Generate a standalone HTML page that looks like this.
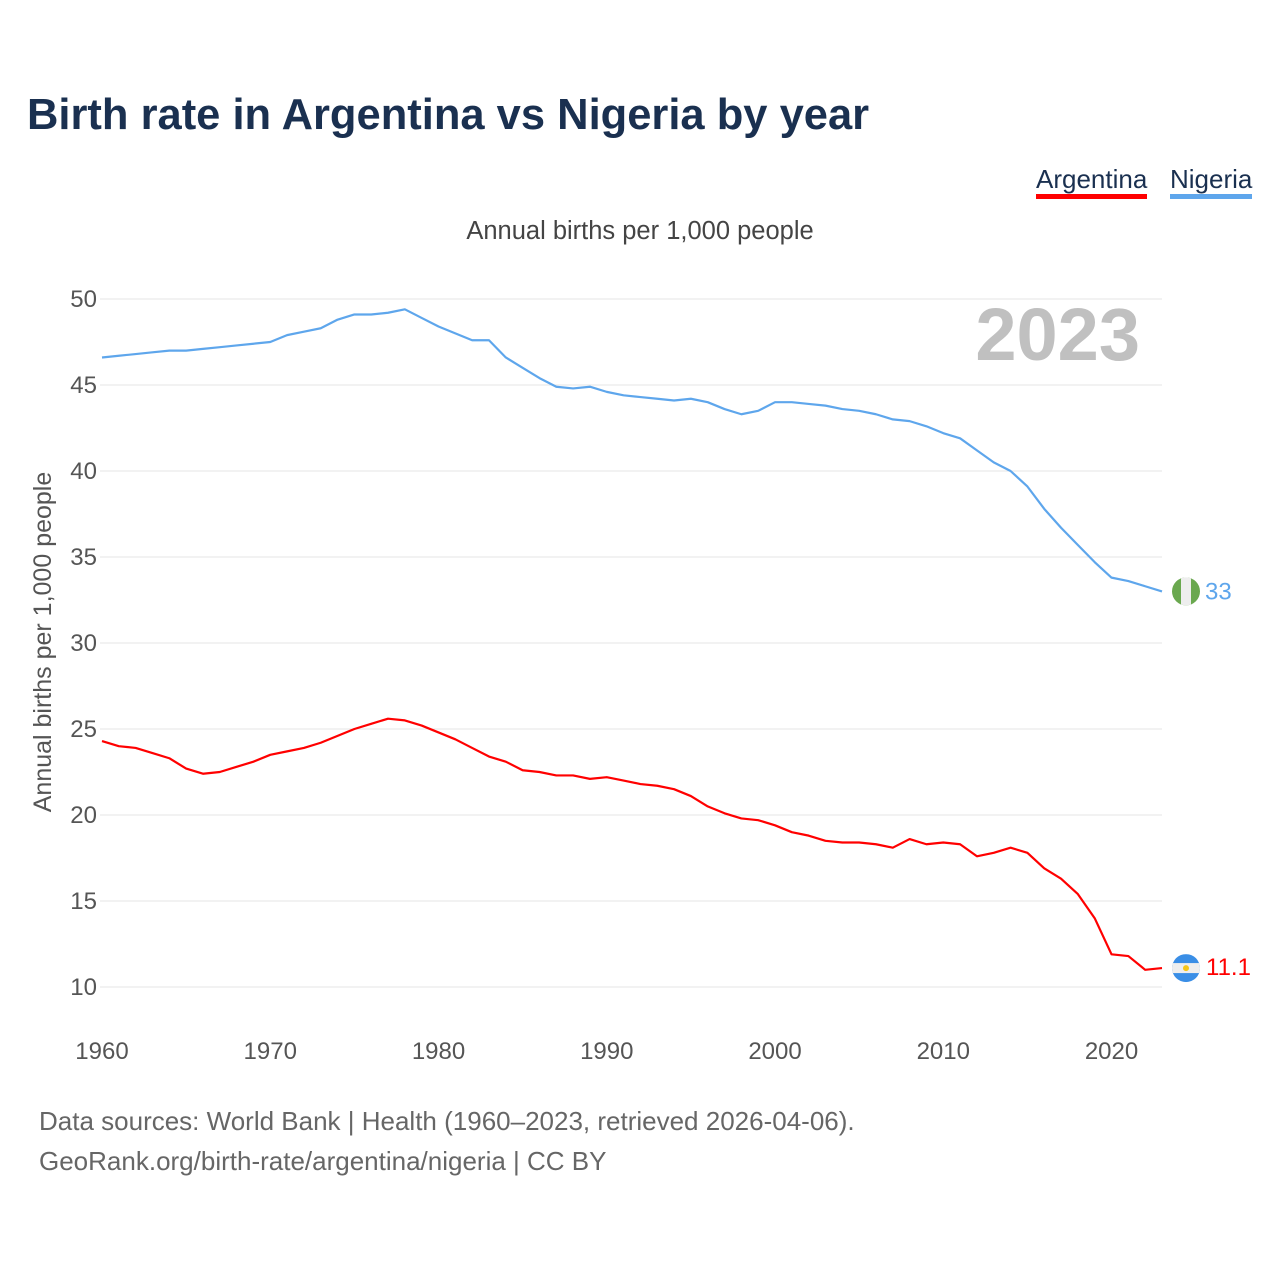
<!DOCTYPE html>
<html><head><meta charset="utf-8"><style>
body{margin:0;background:#fff;font-family:"Liberation Sans",sans-serif;}
#wrap{position:relative;width:1280px;height:1280px;overflow:hidden;}
.t{position:absolute;white-space:nowrap;}
</style></head><body>
<div id="wrap">
<div class="t" style="left:27px;top:91px;font-size:43.5px;font-weight:bold;color:#1a3050;">Birth rate in Argentina vs Nigeria by year</div>
<div class="t" style="left:1036px;top:164px;font-size:26px;color:#1a3050;border-bottom:5px solid #ff0000;line-height:30px;">Argentina</div>
<div class="t" style="left:1170px;top:164px;font-size:26px;color:#1a3050;border-bottom:5px solid #5ea6ec;line-height:30px;">Nigeria</div>
<div class="t" style="left:0;width:1280px;text-align:center;top:217px;font-size:25.5px;color:#444;">Annual births per 1,000 people</div>
<svg id="chart" width="1280" height="1280" style="position:absolute;left:0;top:0"></svg>
<div class="t" style="left:39px;top:1106px;font-size:26px;color:#666;">Data sources: World Bank | Health (1960–2023, retrieved 2026-04-06).</div>
<div class="t" style="left:39px;top:1146px;font-size:26px;color:#666;">GeoRank.org/birth-rate/argentina/nigeria | CC BY</div>
</div>
<script>
const years = Array.from({length:64},(_,i)=>1960+i);
const nigeria = [46.6,46.7,46.8,46.9,47.0,47.0,47.1,47.2,47.3,47.4,47.5,47.9,48.1,48.3,48.8,49.1,49.1,49.2,49.4,48.9,48.4,48.0,47.6,47.6,46.6,46.0,45.4,44.9,44.8,44.9,44.6,44.4,44.3,44.2,44.1,44.2,44.0,43.6,43.3,43.5,44.0,44.0,43.9,43.8,43.6,43.5,43.3,43.0,42.9,42.6,42.2,41.9,41.2,40.5,40.0,39.1,37.8,36.7,35.7,34.7,33.8,33.6,33.3,33.0];
const argentina = [24.3,24.0,23.9,23.6,23.3,22.7,22.4,22.5,22.8,23.1,23.5,23.7,23.9,24.2,24.6,25.0,25.3,25.6,25.5,25.2,24.8,24.4,23.9,23.4,23.1,22.6,22.5,22.3,22.3,22.1,22.2,22.0,21.8,21.7,21.5,21.1,20.5,20.1,19.8,19.7,19.4,19.0,18.8,18.5,18.4,18.4,18.3,18.1,18.6,18.3,18.4,18.3,17.6,17.8,18.1,17.8,16.9,16.3,15.4,14.0,11.9,11.8,11.0,11.1];
const yTicks = [10,15,20,25,30,35,40,45,50];
const xTicks = [1960,1970,1980,1990,2000,2010,2020];
const NS='http://www.w3.org/2000/svg';
const svg=document.getElementById('chart');
const x=v=>102+(v-1960)*(1162-102)/63;
const y=v=>987-(v-10)*(987-299)/40;
function mk(tag,attrs){const e=document.createElementNS(NS,tag);for(const k in attrs)e.setAttribute(k,attrs[k]);svg.appendChild(e);return e;}
yTicks.forEach(t=>{
  const g=mk('line',{x1:100,x2:1162,y1:y(t),y2:y(t),stroke:'#e6e6e6','stroke-width':1});
  
  
  const l=mk('text',{x:97,y:y(t)+8,'text-anchor':'end','font-size':24,fill:'#555','font-family':'Liberation Sans, sans-serif'});
  l.textContent=t;
  
  
});
xTicks.forEach(t=>{
  const l=mk('text',{x:x(t),y:1059,'text-anchor':'middle','font-size':24,fill:'#555','font-family':'Liberation Sans, sans-serif'});
  l.textContent=t;
  
  
});
const yl=mk('text',{x:0,y:0,transform:'translate(51,642) rotate(-90)','text-anchor':'middle','font-size':25,fill:'#555','font-family':'Liberation Sans, sans-serif'});
yl.textContent='Annual births per 1,000 people';


const yr=mk('text',{x:1140,y:360,'text-anchor':'end','font-size':74,'font-weight':'bold',fill:'#c0c0c0','font-family':'Liberation Sans, sans-serif'});
yr.textContent='2023';


function series(vals,color,name){
  const p=mk('polyline',{points:vals.map((v,i)=>x(years[i])+','+y(v)).join(' '),fill:'none',stroke:color,'stroke-width':2.2,'stroke-linejoin':'round'});
  
  
}
series(nigeria,'#5ea6ec','nigeria-line');
series(argentina,'#ff0000','argentina-line');
const nEnd=nigeria[nigeria.length-1], aEnd=argentina[argentina.length-1];
const cx=1186;
const cn=y(nEnd), ca=y(aEnd);
const defs=mk('defs',{});
defs.innerHTML='<clipPath id="cn"><circle cx="'+cx+'" cy="'+cn+'" r="14"/></clipPath><clipPath id="ca"><circle cx="'+cx+'" cy="'+ca+'" r="14"/></clipPath>';
const fn=mk('g',{'clip-path':'url(#cn)'});


fn.innerHTML='<rect x="'+(cx-14)+'" y="'+(cn-14)+'" width="28" height="28" fill="#6aa84f"/><rect x="'+(cx-5)+'" y="'+(cn-14)+'" width="10" height="28" fill="#eee"/>';
const nl=mk('text',{x:1205,y:cn+8,'font-size':24,fill:'#5ea6ec','font-family':'Liberation Sans, sans-serif'});
nl.textContent=String(nEnd);


const fa=mk('g',{'clip-path':'url(#ca)'});


fa.innerHTML='<rect x="'+(cx-14)+'" y="'+(ca-14)+'" width="28" height="28" fill="#3a8ee6"/><rect x="'+(cx-14)+'" y="'+(ca-5)+'" width="28" height="10" fill="#eee"/><circle cx="'+cx+'" cy="'+ca+'" r="3" fill="#f5c518"/>';
const al=mk('text',{x:1206,y:ca+7,'font-size':24,fill:'#ff0000','font-family':'Liberation Sans, sans-serif'});
al.textContent=aEnd.toFixed(1);


</script>
</body></html>
